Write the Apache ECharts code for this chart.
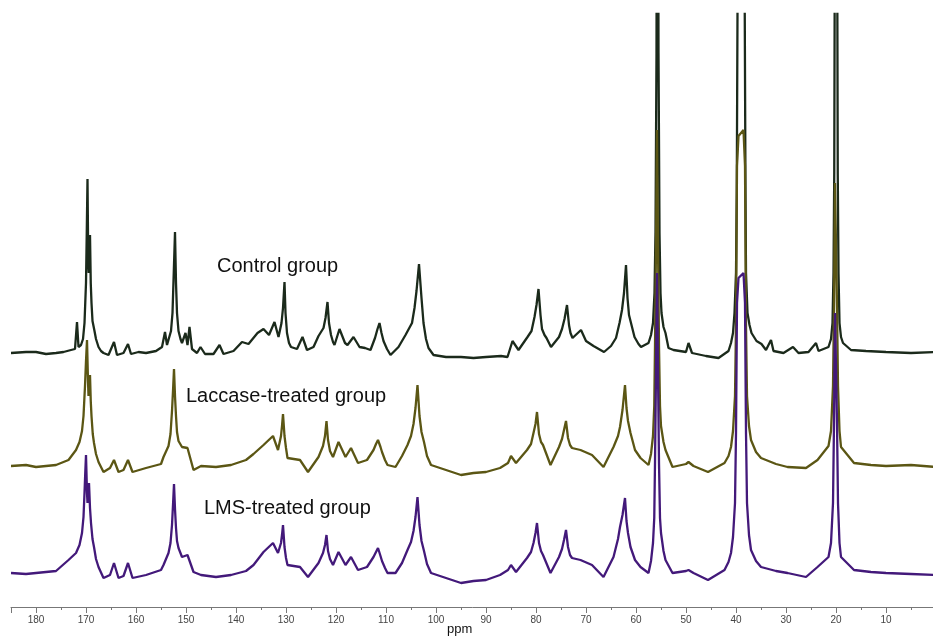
<!DOCTYPE html>
<html>
<head>
<meta charset="utf-8">
<script src="https://cdn.jsdelivr.net/npm/echarts@6/dist/echarts.min.js"></script>
<style>html,body{margin:0;padding:0;background:#fff;}#c{width:933px;height:636px;}</style>
</head>
<body>
<div id="c"></div>
<script>
// Chemical shift (ppm) and relative intensity (a.u., baseline = 0)
const controlData = [
[185,0],[182,1],[180,1],[178,-1],[176,0],[174.5,1],[173,3],[172.2,4],[171.8,31],[171.5,6],[171.0,8],[170.6,14],[170.3,30],[170.0,70],[169.85,120],[169.7,174],[169.55,90],[169.45,80],[169.3,100],[169.2,118],[169.05,70],[168.9,50],[168.7,32],[168.5,30],[168.3,22],[168.0,14],[167.5,6],[167,2],[166.5,0],[165.5,-2],[164.4,11],[163.8,-2],[162.5,0],[161.6,9],[161.0,-1],[159.5,1],[158,0],[156,2],[154.8,6],[154.2,21],[153.8,8],[153.0,22],[152.7,40],[152.45,80],[152.2,121],[152.0,70],[151.8,40],[151.5,22],[151.1,14],[150.8,10],[150.1,20],[149.7,8],[149.3,26],[148.8,4],[147.8,0],[147.1,6],[146.2,-1],[144.5,-1],[143.3,8],[142.5,-1],[140.5,2],[138.8,11],[137.5,9],[135.7,20],[134.5,24],[133.4,18],[132.3,31],[131.5,16],[130.9,30],[130.6,45],[130.3,71],[130.1,40],[129.8,20],[129.4,10],[129.0,6],[127.8,4],[126.7,16],[125.8,3],[124.5,6],[123.5,17],[122.5,25],[122.1,35],[121.7,51],[121.4,30],[121.0,18],[120.6,11],[120.3,8],[119.3,24],[118.2,10],[117.7,8],[116.5,16],[115.3,6],[114.2,5],[113.1,3],[112.2,15],[111.7,24],[111.3,30],[110.9,20],[110.5,12],[109.8,4],[109.1,-2],[107.5,6],[106.1,18],[104.8,30],[104.3,45],[103.9,62],[103.4,89],[102.9,55],[102.5,30],[102.0,14],[101.5,5],[100.5,-2],[98,-4],[95,-4],[92.5,-5],[90,-4],[87,-3],[85.7,-4],[84.7,12],[83.5,3],[81.7,16],[80.9,22],[80.3,36],[79.9,48],[79.5,64],[79.1,38],[78.8,24],[78.3,18],[77.9,15],[77.0,6],[75.4,16],[74.8,24],[74.3,34],[73.8,48],[73.4,28],[73.1,20],[72.7,15],[72.3,13],[71.0,23],[70.0,12],[68.5,7],[66.4,1],[65.0,7],[64.0,15],[63.3,30],[62.8,43],[62.4,60],[62.0,88],[61.7,55],[61.4,38],[61.0,30],[60.3,16],[59.5,9],[59.0,6],[57.5,10],[57.0,18],[56.6,30],[56.3,60],[56.1,120],[55.9,300],[55.7,900],[55.5,300],[55.3,120],[55.1,60],[54.9,40],[54.5,26],[54.1,20],[53.5,5],[52.5,3],[50.0,1],[49.5,10],[48.8,0],[46,-3],[43.5,-5],[41.5,2],[41.0,10],[40.6,20],[40.3,40],[40.0,80],[39.85,160],[39.7,340],[39.5,900],[38.9,1000],[38.4,900],[38.25,340],[38.1,160],[38.0,80],[37.7,40],[37.3,28],[36.9,20],[35.9,12],[34.9,9],[34.0,3],[33.0,13],[32.5,2],[30.5,0],[28.6,6],[27.5,0],[25.5,1],[24.0,10],[23.5,2],[21.5,6],[21.0,14],[20.7,30],[20.5,80],[20.35,180],[20.0,900],[19.65,180],[19.5,80],[19.3,30],[19.0,16],[18.6,10],[17,3],[14,2],[10,1],[5,0],[0,1]
];
const laccaseData = [
[185,0],[182,1],[180,-1],[178,0],[176,1],[173.5,6],[172,16],[171.3,24],[170.8,35],[170.5,50],[170.2,80],[170.0,105],[169.8,126],[169.6,85],[169.5,70],[169.35,82],[169.2,91],[169.05,65],[168.9,50],[168.65,32],[168.4,23],[168.0,12],[167.5,4],[166.5,-6],[165.2,-2],[164.4,6],[163.5,-6],[162.5,-4],[161.6,6],[160.7,-6],[158,-2],[155,2],[154.5,9],[153.5,20],[153.1,32],[152.8,55],[152.6,75],[152.4,97],[152.2,70],[152.0,50],[151.8,34],[151.5,25],[150.8,19],[149.7,18],[148.5,-4],[147,0],[144,-1],[141,1],[138,6],[136.5,12],[134.5,21],[132.6,30],[131.6,16],[131.0,30],[130.8,40],[130.6,52],[130.3,30],[130.0,18],[129.7,8],[127.2,6],[125.6,-6],[123.5,9],[122.6,20],[122.2,30],[121.9,45],[121.6,26],[121.2,15],[120.6,9],[119.5,24],[118.1,9],[117.0,18],[115.6,3],[113.8,6],[112.5,16],[112.0,22],[111.6,26],[111.1,19],[110.8,14],[110.2,6],[109.7,1],[108.1,-1],[106.8,10],[105.7,21],[105.0,30],[104.5,42],[104.1,58],[103.7,81],[103.3,50],[102.9,34],[102.4,24],[101.8,10],[101.0,1],[98,-4],[95,-9],[92.5,-7],[90,-6],[87.2,-2],[85.6,3],[85.0,10],[84.0,3],[81.8,16],[81.0,22],[80.5,33],[80.1,42],[79.8,54],[79.4,32],[79.0,24],[78.6,21],[77.1,1],[75.4,19],[74.8,27],[74.4,36],[74.0,45],[73.6,28],[73.2,21],[72.8,18],[71.1,16],[68.8,11],[66.5,-1],[64.5,19],[63.6,30],[63.2,39],[62.7,56],[62.2,81],[61.9,58],[61.6,45],[61.1,33],[60.2,16],[59.1,8],[57.5,1],[57.0,12],[56.6,30],[56.35,60],[56.2,120],[56.0,220],[55.8,336],[55.6,220],[55.4,120],[55.2,60],[55.0,40],[54.5,24],[54.1,16],[52.7,-1],[50.0,2],[49.5,4],[48.5,0],[45.6,-6],[42.3,3],[41.5,10],[41.0,19],[40.6,35],[40.2,70],[40.0,140],[39.8,300],[39.5,330],[38.5,336],[38.2,300],[38.0,140],[37.8,70],[37.4,40],[37.0,26],[36.0,14],[35.0,8],[32.0,2],[29.7,-1],[26.0,-2],[23.7,6],[21.5,20],[21.0,35],[20.6,80],[20.4,160],[20.2,283],[20.0,283],[19.8,160],[19.6,80],[19.3,35],[19.0,19],[16.4,3],[13,1],[10,0],[5,1],[0,-1]
];
const lmsData = [
[185,0],[182,-1],[180,0],[178,1],[176,2],[173.5,13],[172,20],[171.3,28],[170.8,40],[170.5,56],[170.3,80],[170.15,100],[170.0,118],[169.8,80],[169.7,70],[169.55,80],[169.4,90],[169.2,65],[169.0,50],[168.7,34],[168.4,26],[168.0,14],[167.5,6],[166.5,-5],[165.2,-2],[164.4,10],[163.5,-5],[162.5,-3],[161.6,10],[160.7,-5],[158,-2],[155,3],[154.5,8],[153.5,20],[153.1,30],[152.8,48],[152.6,68],[152.4,89],[152.2,64],[152.0,45],[151.8,32],[151.5,25],[150.8,16],[149.7,18],[148.5,1],[147,-2],[144,-4],[141,-2],[138,2],[136.5,8],[134.5,21],[132.6,30],[131.6,20],[131.0,30],[130.8,38],[130.6,48],[130.3,26],[130.0,15],[129.7,8],[127.2,6],[125.6,-4],[123.5,10],[122.6,20],[122.2,28],[121.9,38],[121.6,22],[121.2,14],[120.6,8],[119.5,21],[118.1,8],[117.0,16],[115.6,3],[113.8,6],[112.5,16],[112.0,21],[111.6,25],[111.1,17],[110.8,12],[110.2,5],[109.7,0],[108.1,0],[106.8,10],[105.7,23],[105.0,31],[104.5,42],[104.1,56],[103.7,76],[103.3,48],[102.9,32],[102.4,22],[101.8,9],[101.0,0],[98,-5],[95,-10],[92.5,-8],[90,-7],[87.2,-2],[85.6,3],[85.0,8],[84.0,1],[81.8,15],[81.0,21],[80.5,30],[80.1,40],[79.8,50],[79.4,30],[79.0,22],[78.6,18],[77.1,0],[75.4,16],[74.8,24],[74.4,33],[74.0,43],[73.6,26],[73.2,18],[72.8,15],[71.1,13],[68.8,8],[66.5,-4],[64.5,16],[63.6,34],[63.2,46],[62.7,58],[62.2,75],[61.9,52],[61.6,40],[61.1,26],[60.2,13],[59.1,6],[57.5,0],[57.0,12],[56.6,30],[56.35,55],[56.2,110],[56.0,200],[55.8,300],[55.6,200],[55.4,110],[55.2,55],[55.0,40],[54.5,22],[54.1,13],[52.7,0],[50.0,2],[49.5,3],[48.5,0],[45.6,-7],[42.3,3],[41.5,11],[41.0,20],[40.6,36],[40.2,70],[40.0,140],[39.8,270],[39.5,295],[38.5,300],[38.2,270],[38.0,140],[37.8,70],[37.4,38],[37.0,23],[36.0,12],[35.0,6],[32.0,2],[29.7,0],[26.0,-4],[23.7,6],[21.5,16],[21.0,30],[20.6,70],[20.4,150],[20.2,260],[20.0,260],[19.8,150],[19.6,70],[19.3,30],[19.0,16],[16.4,3],[13,1],[10,0],[5,-1],[0,-2]
];
// vertical stacking offsets of each spectrum (a.u.)
const controlOffset = 254;
const laccaseOffset = 141;
const lmsOffset = 34;
const seriesNames = ['Control group', 'Laccase-treated group', 'LMS-treated group'];

function shift(arr, off) { return arr.map(p => [p[0], p[1] + off]); }

const chart = echarts.init(document.getElementById('c'));
chart.setOption({
  animation: false,
  backgroundColor: '#fff',
  grid: { left: 11, width: 925, top: 14, bottom: 29, containLabel: false, outerBoundsMode: 'none' },
  xAxis: {
    type: 'value', inverse: true, min: 0, max: 185, interval: 10,
    axisLine: { show: true, onZero: false, lineStyle: { color: '#777', width: 1 } },
    axisTick: { show: true, length: 6, lineStyle: { color: '#777' } },
    minorTick: { show: true, splitNumber: 2, length: 3, lineStyle: { color: '#777' } },
    splitLine: { show: false },
    axisLabel: { fontSize: 10, color: '#444', margin: 8, fontFamily: 'Liberation Sans, Arial, sans-serif',
      formatter: v => (v % 10 === 0 && v > 0 && v <= 180) ? String(v) : '' }
  },
  yAxis: { type: 'value', min: 0, max: 593, show: false },
  series: [
    { name: seriesNames[0], type: 'line', data: shift(controlData, controlOffset), showSymbol: false, symbol: 'none', clip: true,
      lineStyle: { color: '#1b2a1b', width: 2.3 } },
    { name: seriesNames[1], type: 'line', data: shift(laccaseData, laccaseOffset), showSymbol: false, symbol: 'none', clip: true,
      lineStyle: { color: '#5b5614', width: 2.3 } },
    { name: seriesNames[2], type: 'line', data: shift(lmsData, lmsOffset), showSymbol: false, symbol: 'none', clip: true,
      lineStyle: { color: '#43197a', width: 2.3 } }
  ],
  graphic: [
    { type: 'text', left: 217, top: 256, style: { text: seriesNames[0], font: '20px "Liberation Sans", Arial, sans-serif', fill: '#111' } },
    { type: 'text', left: 186, top: 386, style: { text: seriesNames[1], font: '20px "Liberation Sans", Arial, sans-serif', fill: '#111' } },
    { type: 'text', left: 204, top: 498, style: { text: seriesNames[2], font: '20px "Liberation Sans", Arial, sans-serif', fill: '#111' } },
    { type: 'text', left: 447, top: 623, style: { text: 'ppm', font: '13px "Liberation Sans", Arial, sans-serif', fill: '#111' } }
  ]
});
</script>
</body>
</html>
